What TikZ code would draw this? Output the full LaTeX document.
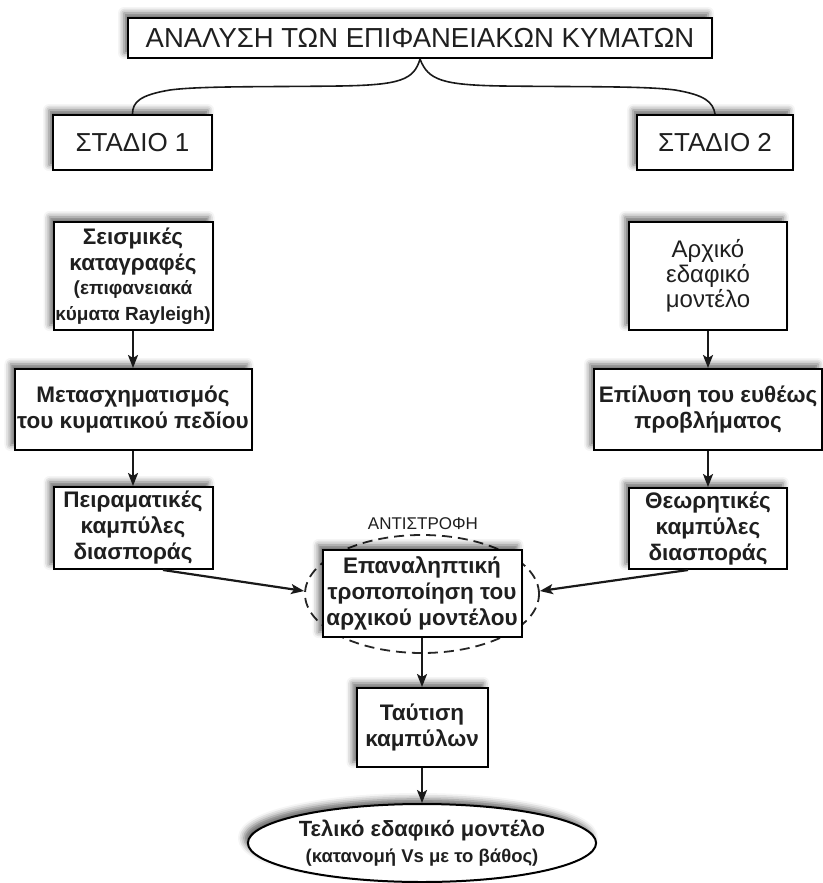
\documentclass[tikz,border=0pt]{standalone}
\usepackage{fontspec}
\setmainfont{Liberation Sans}
\usetikzlibrary{shapes.geometric,arrows.meta,shadows.blur}
\begin{document}
\begin{tikzpicture}[x=1pt,y=-1pt,
  shad/.style={blur shadow={shadow xshift=-4pt, shadow yshift=5pt, shadow blur radius=6pt, shadow opacity=60}},
  box/.style={shad, draw=black, line width=2pt, fill=white, align=center, inner sep=0pt,
    text=black!88, font=\fontsize{22.5}{26}\selectfont\bfseries},
  hdr/.style={shad, draw=black, line width=2pt, fill=white, align=center, inner sep=0pt,
    text=black!88, font=\fontsize{26}{28}\selectfont},
  sz/.style 2 args={minimum width=#1pt, minimum height=#2pt},
  arr/.style={draw=black!90, line width=2.2pt, -{Stealth[length=13pt,width=10pt,inset=3pt]}},
  brc/.style={draw=black!90, line width=1.6pt}
]
\useasboundingbox (0,0) rectangle (822,883);

% header
\node[hdr, sz={584}{40}, font=\fontsize{27.5}{30}\selectfont] (title) at (420,38) {ΑΝΑΛΥΣΗ ΤΩΝ ΕΠΙΦΑΝΕΙΑΚΩΝ ΚΥΜΑΤΩΝ};
\node[hdr, sz={159}{55}] (s1) at (132.5,142.5) {ΣΤΑΔΙΟ 1};
\node[hdr, sz={156}{55}] (s2) at (715,142.5) {ΣΤΑΔΙΟ 2};

% brace
\draw[brc] (title.south) .. controls (414,80) and (400,85) .. (340,86)
  .. controls (260,87) and (200,86) .. (170,90)
  .. controls (140,95) and (132.5,102) .. (s1.north);
\draw[brc] (title.south) .. controls (428,80) and (442,85) .. (502,86)
  .. controls (585,87) and (645,86) .. (675,90)
  .. controls (705,95) and (713,102) .. (s2.north);

% left column
\node[box, sz={159}{108}] (seis) at (133,276) {Σεισμικές\\καταγραφές\\[-2pt]\fontsize{19}{22}\selectfont (επιφανειακά\\\fontsize{19}{22}\selectfont κύματα Rayleigh)};
\node[box, sz={237}{81}] (meta) at (133,409.5) {Μετασχηματισμός\\του κυματικού πεδίου};
\node[box, sz={159}{82}] (peir) at (133,528) {Πειραματικές\\καμπύλες\\διασποράς};

% right column
\node[box, sz={158}{108}, font=\fontsize{24}{25}\selectfont] (arx) at (708,276) {Αρχικό\\εδαφικό\\μοντέλο};
\node[box, sz={228}{81}] (epil) at (708,409.5) {Επίλυση του ευθέως\\προβλήματος};
\node[box, sz={158}{81}] (theo) at (708,528.5) {Θεωρητικές\\καμπύλες\\διασποράς};

% centre
\node[draw=black!85, line width=1.8pt, dash pattern=on 10pt off 6pt, ellipse, minimum width=234pt, minimum height=118pt, inner sep=0pt] (loop) at (422,594) {};
\node[text=black!88, font=\fontsize{17}{18}\selectfont, inner sep=0pt] (inv) at (423,524) {ΑΝΤΙΣΤΡΟΦΗ};
\node[box, sz={199}{87}] (epan) at (422,593.5) {Επαναληπτική\\τροποποίηση του\\αρχικού μοντέλου};
\node[box, sz={131}{79}] (taut) at (422,727.5) {Ταύτιση\\καμπύλων};
\node[shad, draw=black, line width=2pt, fill=white, ellipse, minimum width=284pt, minimum height=78pt, inner sep=0pt,
  align=center, text=black!88, font=\fontsize{22}{26}\selectfont\bfseries] (fin) at (422,843)
  {Τελικό εδαφικό μοντέλο\\\fontsize{18.5}{20}\selectfont (κατανομή Vs με το βάθος)};

% arrows
\draw[arr] (seis.south) -- (meta.north);
\draw[arr] (meta.south) -- (peir.north);
\draw[arr] (arx.south) -- (epil.north);
\draw[arr] (epil.south) -- (theo.north);
\draw[arr] ([xshift=30pt]peir.south) -- ([yshift=3pt]loop.west);
\draw[arr] ([xshift=-20pt]theo.south) -- ([yshift=3pt]loop.east);
\draw[arr] (epan.south) -- (taut.north);
\draw[arr] (taut.south) -- (fin.north);
\end{tikzpicture}
\end{document}
